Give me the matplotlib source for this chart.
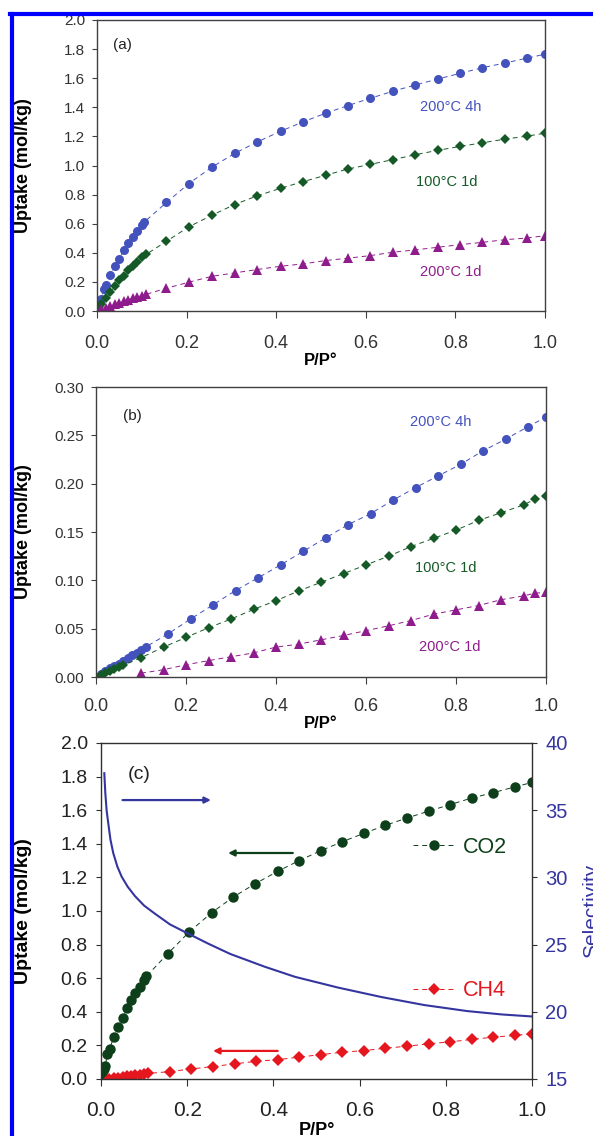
import numpy as np
import matplotlib
matplotlib.use("Agg")
import matplotlib.pyplot as plt
from matplotlib.lines import Line2D
from matplotlib.ticker import FormatStrFormatter, MultipleLocator

plt.rcParams['font.family'] = ['Liberation Sans', 'DejaVu Sans']

# ---- panel (a): uptake, three activation conditions ----
p_lo = [0.0, 0.003, 0.006, 0.01, 0.015, 0.02, 0.03, 0.04, 0.05, 0.06, 0.07, 0.08, 0.09, 0.1, 0.105]
p_hi = [0.155, 0.205, 0.257, 0.307, 0.357, 0.41, 0.46, 0.51, 0.56, 0.61, 0.66, 0.71,
        0.76, 0.81, 0.86, 0.91, 0.96, 1.0]

a_4h_lo = [0.0, 0.03, 0.06, 0.08, 0.15, 0.18, 0.25, 0.31, 0.36, 0.42, 0.47, 0.51, 0.55, 0.59, 0.61]
a_4h_hi = [0.746, 0.876, 0.99, 1.083, 1.161, 1.236, 1.30, 1.359, 1.412, 1.462, 1.51, 1.553,
           1.594, 1.633, 1.672, 1.704, 1.738, 1.765]

a_100_p_lo = [0.0, 0.005, 0.01, 0.02, 0.03, 0.04, 0.05, 0.06, 0.07, 0.08, 0.09, 0.1, 0.11]
a_100_lo = [0.0, 0.03, 0.05, 0.09, 0.13, 0.17, 0.21, 0.24, 0.28, 0.31, 0.34, 0.37, 0.39]
a_100_hi = [0.479, 0.579, 0.659, 0.732, 0.791, 0.844, 0.889, 0.933, 0.976, 1.008, 1.04, 1.074,
            1.104, 1.131, 1.156, 1.181, 1.202, 1.222]

a_1d_p_lo = [0.0, 0.01, 0.02, 0.03, 0.04, 0.05, 0.06, 0.07, 0.08, 0.09, 0.1, 0.11]
a_1d_lo = [0.0, 0.012, 0.024, 0.035, 0.046, 0.057, 0.067, 0.077, 0.087, 0.097, 0.106, 0.115]
a_1d_hi = [0.157, 0.198, 0.239, 0.262, 0.285, 0.308, 0.324, 0.347, 0.363, 0.381, 0.404, 0.42,
           0.438, 0.456, 0.472, 0.49, 0.502, 0.518]

# ---- panel (b) ----
b_4h_p = [0.0, 0.01, 0.02, 0.03, 0.04, 0.05, 0.06, 0.07, 0.08, 0.09, 0.1, 0.11,
          0.16, 0.21, 0.26, 0.31, 0.36, 0.41, 0.46, 0.51, 0.56, 0.61, 0.66, 0.71,
          0.76, 0.81, 0.86, 0.91, 0.96, 1.0]
b_4h = [0.0, 0.003, 0.006, 0.009, 0.011, 0.014, 0.017, 0.020, 0.023, 0.025, 0.028, 0.031,
        0.0447, 0.060, 0.0747, 0.0895, 0.1026, 0.116, 0.130, 0.1438, 0.1576, 0.169, 0.183, 0.196,
        0.208, 0.220, 0.234, 0.246, 0.259, 0.269]

b_100_p = [0.0, 0.01, 0.02, 0.03, 0.04, 0.05, 0.06, 0.1, 0.15, 0.2, 0.25, 0.3, 0.35, 0.4,
           0.45, 0.5, 0.55, 0.6, 0.65, 0.7, 0.75, 0.8, 0.85, 0.9, 0.95, 0.975, 1.0]
b_100 = [0.0, 0.002, 0.004, 0.006, 0.008, 0.010, 0.012, 0.020, 0.031, 0.041, 0.051, 0.060,
         0.070, 0.079, 0.089, 0.098, 0.107, 0.116, 0.125, 0.135, 0.1435, 0.152, 0.162, 0.170,
         0.178, 0.184, 0.1875]

b_1d_p = [0.1, 0.15, 0.2, 0.25, 0.3, 0.35, 0.4, 0.45, 0.5, 0.55, 0.6, 0.65, 0.7, 0.75,
          0.8, 0.85, 0.9, 0.95, 0.975, 1.0]
b_1d = [0.004, 0.0076, 0.0127, 0.017, 0.021, 0.025, 0.031, 0.034, 0.0385, 0.043, 0.048,
        0.053, 0.0585, 0.065, 0.0695, 0.074, 0.080, 0.084, 0.0867, 0.0877]

# ---- panel (c): CO2 / CH4 and selectivity ----
co2_p = p_lo + p_hi
co2 = a_4h_lo + a_4h_hi

ch4_p = [0.018, 0.03, 0.04, 0.05, 0.06, 0.07, 0.08, 0.09, 0.1, 0.11,
         0.16, 0.21, 0.26, 0.31, 0.36, 0.41, 0.46, 0.51, 0.56, 0.61, 0.66, 0.71,
         0.76, 0.81, 0.86, 0.91, 0.96, 1.0]
ch4 = [0.0, 0.005, 0.008, 0.012, 0.015, 0.019, 0.022, 0.026, 0.03, 0.033,
       0.044, 0.06, 0.074, 0.09, 0.105, 0.115, 0.13, 0.145, 0.159, 0.169, 0.183, 0.195,
       0.209, 0.221, 0.235, 0.249, 0.259, 0.269]

sel_p = [0.0077, 0.01, 0.013, 0.017, 0.022, 0.0285, 0.038, 0.048, 0.062, 0.079, 0.1, 0.125,
         0.16, 0.2, 0.25, 0.3, 0.38, 0.45, 0.55, 0.65, 0.75, 0.85, 0.93, 1.0]
sel = [37.75, 36.3, 35.0, 34.0, 32.8, 31.8, 30.8, 30.05, 29.3, 28.6, 27.9, 27.3,
       26.5, 25.85, 25.05, 24.3, 23.35, 22.6, 21.8, 21.1, 20.5, 20.05, 19.8, 19.65]

# colours
c_blue = '#4352BC'
c_green = '#155A26'
c_purple = '#8E1C8C'
c_co2 = '#0D3F1A'
c_ch4 = '#E5161E'
c_sel = '#3535A0'
c_tick = '#333333'

fig = plt.figure(figsize=(5.93, 11.36), dpi=100)


def style_box(ax, ylab_x, xpad):
    for s in ax.spines.values():
        s.set_color('#404040')
        s.set_linewidth(1.0)
    ax.tick_params(direction='out', width=0.8, color='#404040', labelcolor=c_tick)
    ax.tick_params(axis='x', labelsize=13, length=5, pad=xpad)
    ax.tick_params(axis='y', labelsize=11, length=3.6, pad=5)
    ax.set_xlim(0, 1.0)
    ax.xaxis.set_major_locator(MultipleLocator(0.2))
    ax.xaxis.set_major_formatter(FormatStrFormatter('%.1f'))
    ax.set_xlabel('P/P°', fontsize=12, fontweight='bold', labelpad=1)
    ax.set_ylabel('Uptake (mol/kg)', fontsize=13, fontweight='bold')
    ax.yaxis.set_label_coords(ylab_x, 0.5)


line_kw = dict(linestyle=(0, (5, 4)), linewidth=0.7, markeredgewidth=0)

# (a)
ax1 = fig.add_axes([0.1636, 0.7262, 0.7555, 0.2562])
ax1.plot(p_lo + p_hi, a_4h_lo + a_4h_hi, marker='o', markersize=6.5, color=c_blue, **line_kw)
ax1.plot(a_100_p_lo + p_hi, a_100_lo + a_100_hi, marker='D', markersize=5, color=c_green, **line_kw)
ax1.plot(a_1d_p_lo + p_hi, a_1d_lo + a_1d_hi, marker='^', markersize=6.5, color=c_purple, **line_kw)
ax1.set_ylim(0, 2.0)
ax1.yaxis.set_major_locator(MultipleLocator(0.2))
ax1.yaxis.set_major_formatter(FormatStrFormatter('%.1f'))
style_box(ax1, -0.145, 12)
ax1.text(0.036, 0.914, '(a)', transform=ax1.transAxes, fontsize=11, va='center', color='#222222')
ax1.text(0.79, 1.40, '200°C 4h', color=c_blue, fontsize=10.5, ha='center', va='center')
ax1.text(0.78, 0.89, '100°C 1d', color=c_green, fontsize=10.5, ha='center', va='center')
ax1.text(0.79, 0.27, '200°C 1d', color=c_purple, fontsize=10.5, ha='center', va='center')

# (b)
ax2 = fig.add_axes([0.1619, 0.4040, 0.7589, 0.2553])
ax2.plot(b_4h_p, b_4h, marker='o', markersize=6.5, color=c_blue, **line_kw)
ax2.plot(b_100_p, b_100, marker='D', markersize=5, color=c_green, **line_kw)
ax2.plot(b_1d_p, b_1d, marker='^', markersize=6.5, color=c_purple, **line_kw)
ax2.set_ylim(0, 0.30)
ax2.yaxis.set_major_locator(MultipleLocator(0.05))
ax2.yaxis.set_major_formatter(FormatStrFormatter('%.2f'))
style_box(ax2, -0.142, 10)
ax2.text(0.06, 0.9, '(b)', transform=ax2.transAxes, fontsize=11, va='center', color='#222222')
ax2.text(0.767, 0.264, '200°C 4h', color=c_blue, fontsize=10.5, ha='center', va='center')
ax2.text(0.778, 0.113, '100°C 1d', color=c_green, fontsize=10.5, ha='center', va='center')
ax2.text(0.787, 0.031, '200°C 1d', color=c_purple, fontsize=10.5, ha='center', va='center')

# (c)
ax3 = fig.add_axes([0.1703, 0.0502, 0.7268, 0.2958])
h_co2, = ax3.plot(co2_p, co2, marker='o', markersize=7.5, color=c_co2,
                  linestyle=(0, (5, 4)), linewidth=0.7, markeredgewidth=0)
h_ch4, = ax3.plot(ch4_p, ch4, marker='D', markersize=6, color=c_ch4,
                  linestyle=(0, (5, 4)), linewidth=0.7, markeredgewidth=0)
ax3.set_xlim(0, 1.0)
ax3.set_ylim(0, 2.0)
ax3.xaxis.set_major_locator(MultipleLocator(0.2))
ax3.xaxis.set_major_formatter(FormatStrFormatter('%.1f'))
ax3.yaxis.set_major_locator(MultipleLocator(0.2))
ax3.yaxis.set_major_formatter(FormatStrFormatter('%.1f'))
for s in ax3.spines.values():
    s.set_color('#303030')
    s.set_linewidth(1.0)
ax3.tick_params(direction='out', width=0.8, color='#303030', labelcolor='#222222')
ax3.tick_params(axis='x', labelsize=15, length=5, pad=11)
ax3.tick_params(axis='y', labelsize=14, length=3.6, pad=6)
ax3.set_xlabel('P/P°', fontsize=13, fontweight='bold', labelpad=1)
ax3.set_ylabel('Uptake (mol/kg)', fontsize=14, fontweight='bold')
ax3.yaxis.set_label_coords(-0.16, 0.5)
ax3.text(0.062, 0.905, '(c)', transform=ax3.transAxes, fontsize=14, va='center', color='#222222')

ax4 = ax3.twinx()
ax4.plot(sel_p, sel, color=c_sel, linewidth=1.5)
ax4.set_ylim(15, 40)
ax4.yaxis.set_major_locator(MultipleLocator(5))
ax4.tick_params(axis='y', direction='out', length=3.6, width=0.8, color='#303030',
                labelcolor=c_sel, labelsize=14.5, pad=6)
ax4.set_ylabel('Selectivity', fontsize=15, color=c_sel)
ax4.yaxis.set_label_coords(1.116, 0.5)
for s in ax4.spines.values():
    s.set_visible(False)

# arrows pointing at the axis each curve belongs to
arrow_blue = ((0.255, 1.66), (0.05, 1.66))
arrow_green = ((0.295, 1.345), (0.445, 1.345))
arrow_red = ((0.26, 0.167), (0.41, 0.167))
for (head, tail), col in [(arrow_blue, c_sel), (arrow_green, c_co2), (arrow_red, c_ch4)]:
    ax3.annotate('', xy=head, xytext=tail,
                 arrowprops=dict(arrowstyle='-|>', color=col, lw=1.6, mutation_scale=9,
                                 shrinkA=0, shrinkB=0))

leg_kw = dict(frameon=False, loc='center left', fontsize=15.5, handlelength=2.0,
              handletextpad=0.35, borderpad=0, borderaxespad=0, numpoints=1)
leg1 = ax4.legend([h_co2], ['CO2'], bbox_to_anchor=(0.723, 0.69), labelcolor=c_co2, **leg_kw)
ax4.add_artist(leg1)
ax4.legend([h_ch4], ['CH4'], bbox_to_anchor=(0.723, 0.262), labelcolor=c_ch4, **leg_kw)

# blue page frame
y_top = 1 - 13.5 / 1136
fig.add_artist(Line2D([10 / 593, 1.0], [y_top, y_top], color='#0000FF', linewidth=3, zorder=10))
fig.add_artist(Line2D([12 / 593, 12 / 593], [0, y_top], color='#0000FF', linewidth=3, zorder=10))

fig.savefig('out.png', dpi=100)
